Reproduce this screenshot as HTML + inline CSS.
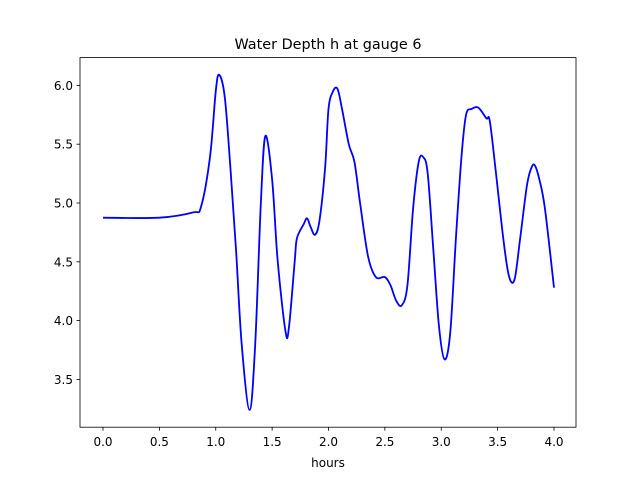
<!DOCTYPE html>
<html><head><meta charset="utf-8"><style>
body{margin:0;background:#fff;}
svg text{font-family:"DejaVu Sans","Liberation Sans",sans-serif;fill:#000;}
</style></head><body>
<svg id="chart" width="640" height="480" viewBox="0 0 640 480">
<rect x="0" y="0" width="640" height="480" fill="#fff"/>
<text x="328" y="49" font-size="14.4" text-anchor="middle">Water Depth h at gauge 6</text>
<g id="xticks"></g>
<g id="yticks"></g>
<path id="line" fill="none" stroke="#0000ff" stroke-width="1.8"/>
<rect x="80" y="57.6" width="496" height="369.6" fill="none" stroke="#000" stroke-width="0.8"/>
<text x="328" y="467" font-size="12" text-anchor="middle">hours</text>
</svg>
<script>
const hours=[0,0.5,0.8,0.87,0.95,1.0,1.03,1.08,1.13,1.18,1.23,1.3,1.35,1.4,1.44,1.5,1.55,1.62,1.65,1.7,1.72,1.78,1.81,1.84,1.88,1.92,1.97,2.0,2.04,2.08,2.12,2.18,2.23,2.28,2.35,2.42,2.5,2.55,2.6,2.65,2.7,2.75,2.8,2.84,2.88,2.93,2.98,3.03,3.08,3.13,3.18,3.22,3.27,3.33,3.4,3.43,3.48,3.55,3.6,3.65,3.7,3.76,3.8,3.83,3.87,3.92,4.0];
const depth=[4.875,4.875,4.92,4.97,5.4,5.95,6.09,5.9,5.3,4.6,3.8,3.24,3.8,5.0,5.57,5.2,4.5,3.9,3.95,4.5,4.7,4.82,4.87,4.8,4.73,4.85,5.3,5.8,5.95,5.97,5.8,5.5,5.35,5.0,4.55,4.37,4.37,4.3,4.17,4.13,4.3,4.95,5.35,5.39,5.25,4.6,3.95,3.67,3.9,4.7,5.4,5.75,5.8,5.81,5.72,5.7,5.3,4.7,4.38,4.35,4.7,5.15,5.3,5.32,5.2,4.95,4.28];
const xTicks=[0,0.5,1,1.5,2,2.5,3,3.5,4];
const yTicks=[3.5,4.0,4.5,5.0,5.5,6.0];
const X=v=>103+v*112.75;
const Y=v=>203-(v-5)*117.6;
const NS='http://www.w3.org/2000/svg';
const xg=document.getElementById('xticks'),yg=document.getElementById('yticks');
xTicks.forEach(t=>{
  const l=document.createElementNS(NS,'line');
  l.setAttribute('x1',X(t));l.setAttribute('x2',X(t));l.setAttribute('y1',427.2);l.setAttribute('y2',430.7);l.setAttribute('stroke','#000');l.setAttribute('stroke-width','0.8');
  
  
  xg.appendChild(l);
  const s=document.createElementNS(NS,'text');
  s.setAttribute('x',X(t));s.setAttribute('y',446);s.setAttribute('font-size','12');s.setAttribute('text-anchor','middle');
  s.textContent=t.toFixed(1);
  
  
  xg.appendChild(s);
});
yTicks.forEach(t=>{
  const l=document.createElementNS(NS,'line');
  l.setAttribute('x1',76.5);l.setAttribute('x2',80);l.setAttribute('y1',Y(t));l.setAttribute('y2',Y(t));l.setAttribute('stroke','#000');l.setAttribute('stroke-width','0.8');
  
  
  yg.appendChild(l);
  const s=document.createElementNS(NS,'text');
  s.setAttribute('x',73);s.setAttribute('y',Y(t)+4.5);s.setAttribute('font-size','12');s.setAttribute('text-anchor','end');
  s.textContent=t.toFixed(1);
  
  
  yg.appendChild(s);
});
const P=hours.map((h,i)=>[X(h),Y(depth[i])]);
let d='M'+P[0][0]+','+P[0][1];
for(let i=0;i<P.length-1;i++){
  const p0=P[Math.max(0,i-1)],p1=P[i],p2=P[i+1],p3=P[Math.min(P.length-1,i+2)];
  const c1=[p1[0]+(p2[0]-p0[0])/6,p1[1]+(p2[1]-p0[1])/6];
  const c2=[p2[0]-(p3[0]-p1[0])/6,p2[1]-(p3[1]-p1[1])/6];
  d+=`C${c1[0]},${c1[1]} ${c2[0]},${c2[1]} ${p2[0]},${p2[1]}`;
}
document.getElementById('line').setAttribute('d',d);
</script>
</body></html>
